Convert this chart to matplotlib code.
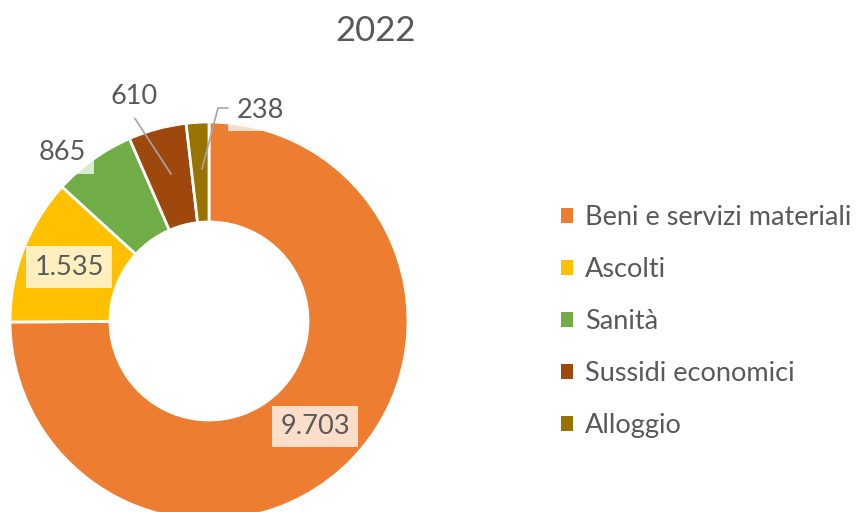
import numpy as np
import matplotlib.pyplot as plt

plt.rcParams['font.family'] = ['Lato', 'DejaVu Sans']

# dati
categorie = ['Beni e servizi materiali', 'Ascolti', 'Sanità', 'Sussidi economici', 'Alloggio']
valori = [9703, 1535, 865, 610, 238]
etichette = ['9.703', '1.535', '865', '610', '238']
colori = ['#ED7D31', '#FFC000', '#70AD47', '#9E480E', '#997300']

W, H = 856, 512
fig = plt.figure(figsize=(W / 100, H / 100), dpi=100)
ax = fig.add_axes([0, 0, 1, 1])

cx, cy, R = 209, H - 321, 199
wedges, _ = ax.pie(valori, colors=colori, startangle=90, counterclock=False,
                   center=(cx, cy), radius=R,
                   wedgeprops=dict(width=100, edgecolor='white', linewidth=2))
ax.set_xlim(0, W)
ax.set_ylim(0, H)
ax.set_aspect('equal')
ax.axis('off')

grigio = '#595959'
fs = 19.5
box = dict(boxstyle='square,pad=0.3', facecolor='white', alpha=0.75, edgecolor='none')

# etichette interne (grandi fette)
for w, lab in zip(wedges[:2], etichette[:2]):
    ang = np.deg2rad((w.theta1 + w.theta2) / 2)
    x = cx + 150 * np.cos(ang)
    y = cy + 150 * np.sin(ang)
    ax.text(x, y, lab, ha='center', va='center', fontsize=fs, color=grigio, bbox=box)

# etichette esterne
ax.text(62, H - 153, etichette[2], ha='center', va='center', fontsize=fs, color=grigio, bbox=box)
ax.text(134, H - 97, etichette[3], ha='center', va='center', fontsize=fs, color=grigio, bbox=box)
ax.text(260, H - 110, etichette[4], ha='center', va='center', fontsize=fs, color=grigio, bbox=box)

# linee guida
ax.plot([134, 171], [H - 117, H - 174], color='#A6A6A6', lw=1.2)
ax.plot([229, 218, 202], [H - 108, H - 108, H - 169], color='#A6A6A6', lw=1.2)

fig.text(376 / W, 1 - 31 / H, '2022', ha='center', va='center', fontsize=25, color=grigio)

ax.legend(wedges, categorie, loc='upper left', bbox_to_anchor=(561 / W, 1 - 205 / H),
          bbox_transform=fig.transFigure, frameon=False, fontsize=fs,
          labelcolor=grigio, handlelength=0.45, handleheight=0.45,
          handletextpad=0.45, labelspacing=1.0, borderpad=0, borderaxespad=0)
for h in ax.get_legend().legend_handles:
    h.set_edgecolor('none')

fig.savefig('out.png', dpi=100)
